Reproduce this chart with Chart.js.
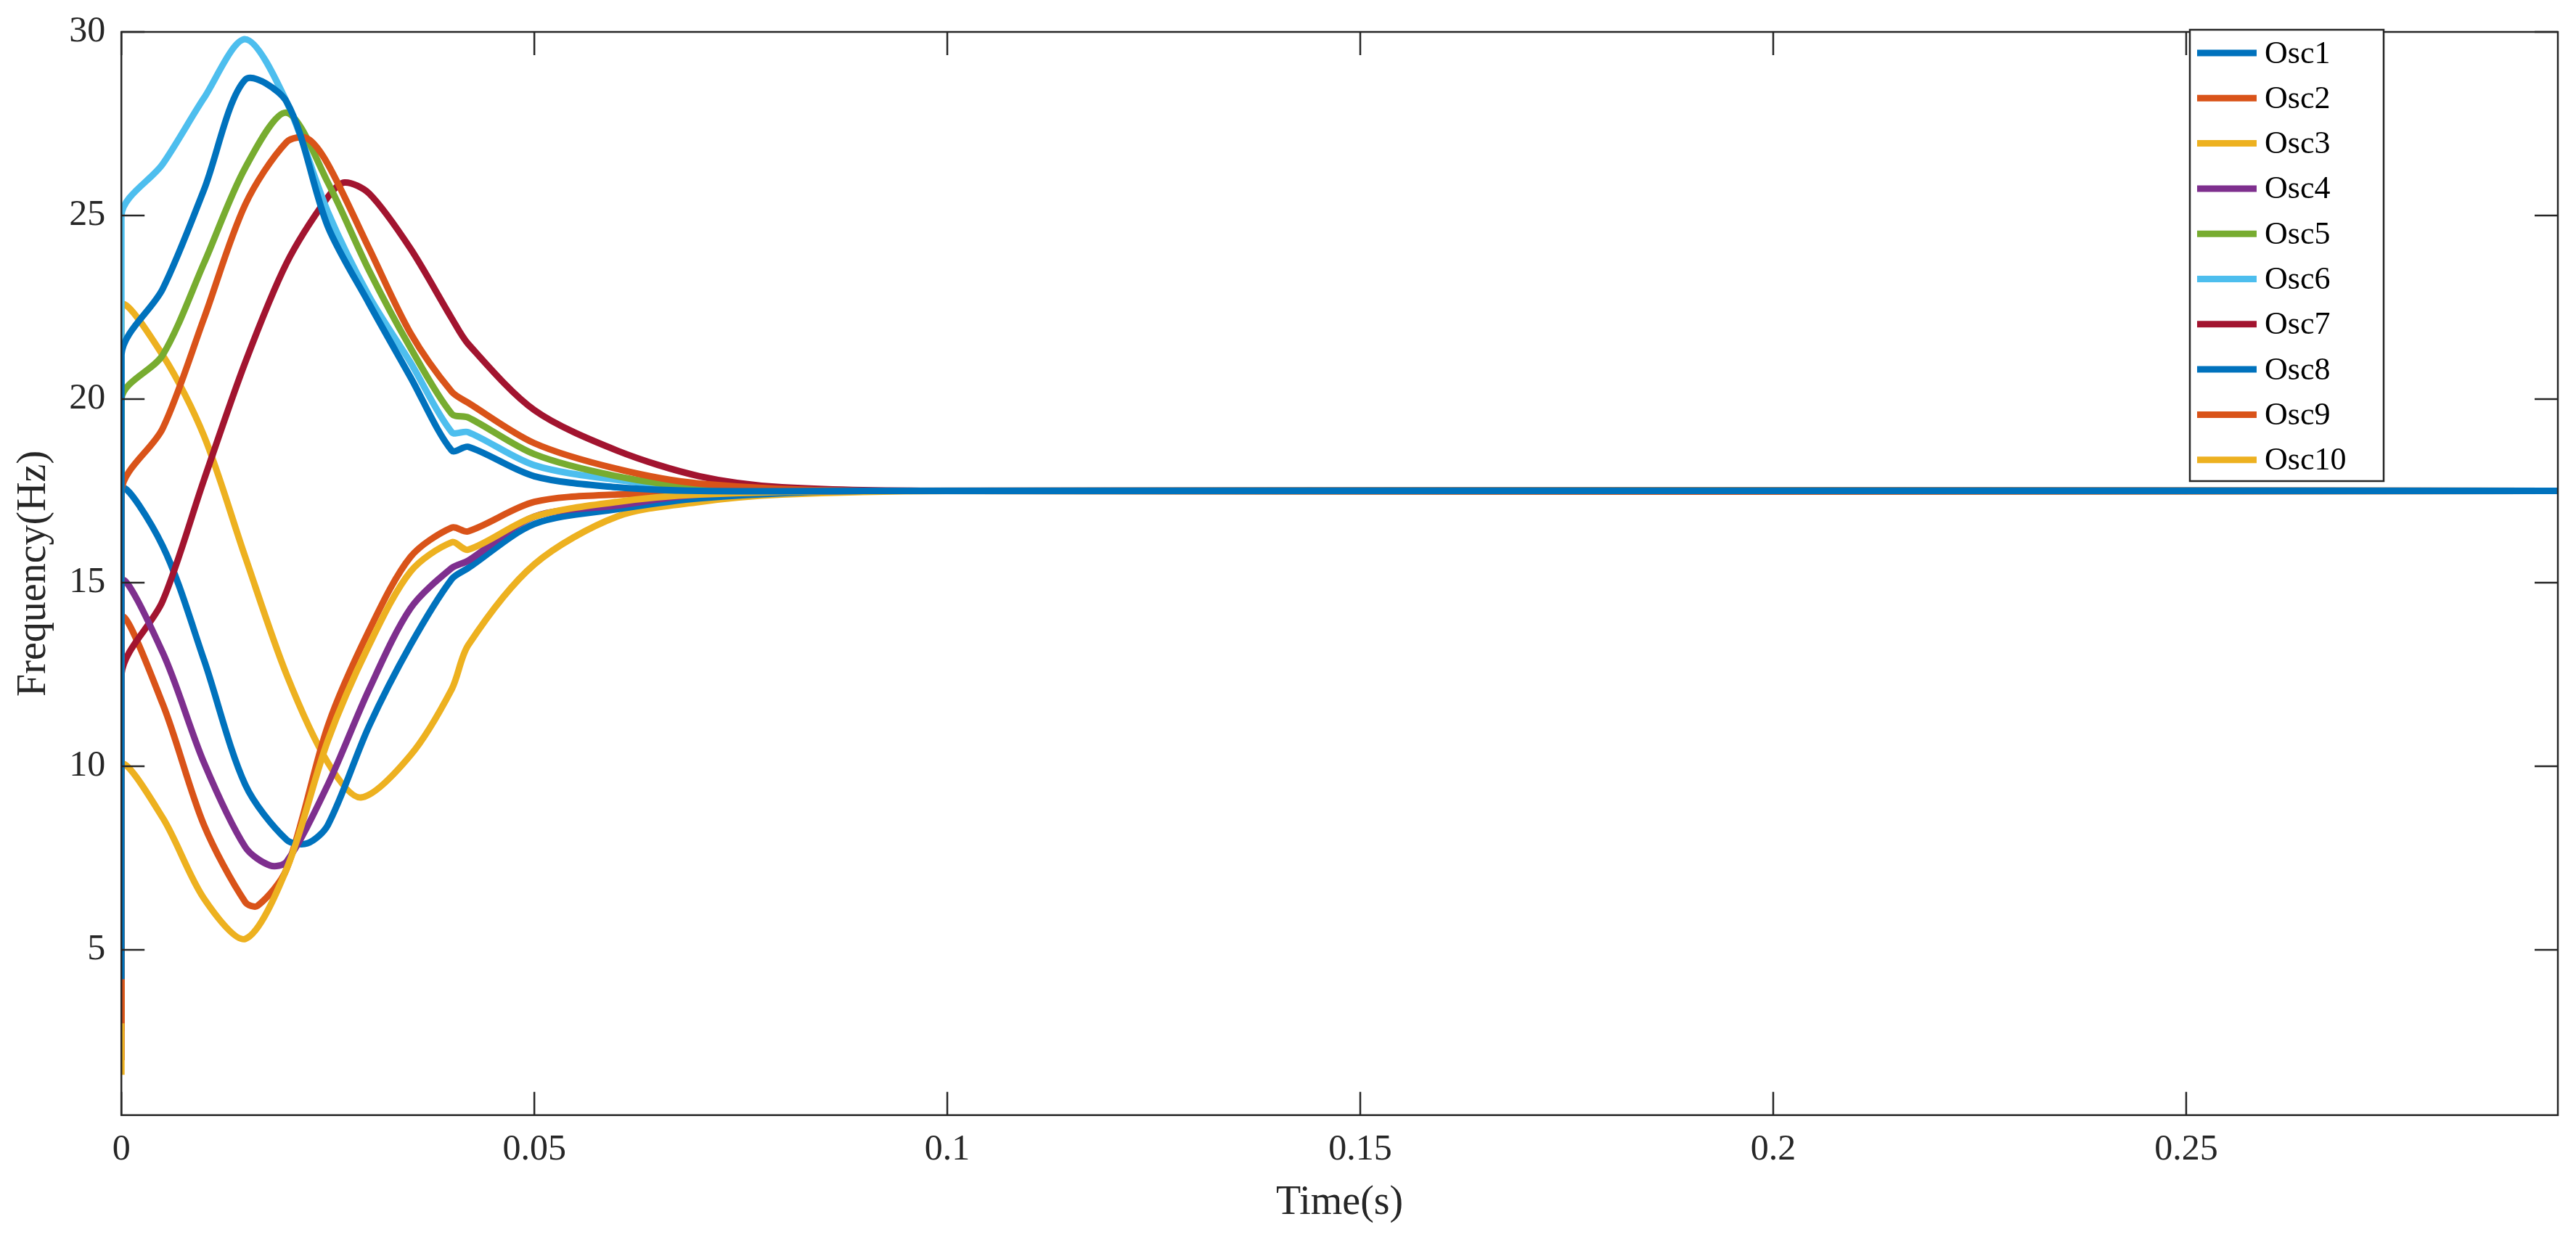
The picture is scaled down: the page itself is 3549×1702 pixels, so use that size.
<!DOCTYPE html>
<html><head><meta charset="utf-8">
<script src="https://cdn.jsdelivr.net/npm/chart.js@4/dist/chart.umd.min.js"></script>
<style>html,body{margin:0;padding:0;background:#fff}#w{width:3549px;height:1702px}</style>
</head><body><div id="w"><canvas id="c"></canvas></div>
<script>
const labels = ['Osc1','Osc2','Osc3','Osc4','Osc5','Osc6','Osc7','Osc8','Osc9','Osc10'];
const colors = ['#0072BD','#D95319','#EDB120','#7E2F8E','#77AC30','#4DBEEE','#A2142F','#0072BD','#D95319','#EDB120'];
const xTicks = [0,0.05,0.1,0.15,0.2,0.25];
const yTicks = [5,10,15,20,25,30];
const startLow = [4.2,3.0,1.6,3.8,4.0,4.5,2.0,3.2,2.8,3.5];
const times = [
 [0,0.005,0.01,0.015,0.02,0.025,0.03,0.035,0.04,0.042,0.05,0.06,0.07,0.09,0.295],
 [0,0.005,0.01,0.015,0.02,0.0225,0.025,0.03,0.035,0.04,0.042,0.05,0.06,0.07,0.09,0.295],
 [0,0.005,0.01,0.015,0.02,0.025,0.03,0.035,0.04,0.042,0.05,0.06,0.07,0.09,0.295],
 [0,0.005,0.01,0.015,0.018,0.02,0.025,0.03,0.035,0.04,0.042,0.05,0.06,0.07,0.09,0.295],
 [0,0.005,0.01,0.015,0.02,0.025,0.03,0.035,0.04,0.042,0.05,0.06,0.07,0.09,0.295],
 [0,0.005,0.01,0.015,0.02,0.025,0.03,0.035,0.04,0.042,0.05,0.06,0.07,0.09,0.295],
 [0,0.005,0.01,0.015,0.02,0.025,0.027,0.03,0.035,0.04,0.042,0.05,0.06,0.07,0.08,0.1,0.295],
 [0,0.005,0.01,0.015,0.02,0.0225,0.025,0.03,0.035,0.04,0.042,0.05,0.06,0.07,0.09,0.295],
 [0,0.005,0.01,0.015,0.0165,0.02,0.025,0.03,0.035,0.04,0.042,0.05,0.06,0.08,0.295],
 [0,0.005,0.01,0.015,0.02,0.025,0.029,0.035,0.04,0.042,0.05,0.06,0.07,0.08,0.1,0.295]
];
const values = [
 [21.2,23.0,25.7,28.7,28.1,24.7,22.6,20.6,18.6,18.7,17.9,17.6,17.5,17.5,17.5],
 [17.5,19.2,22.2,25.3,27.0,27.1,26.4,24.1,21.8,20.2,19.9,18.8,18.1,17.7,17.5,17.5],
 [10.0,8.6,6.4,5.3,7.2,10.7,13.3,15.3,16.1,15.9,16.8,17.2,17.4,17.5,17.5],
 [15.0,13.1,10.1,7.8,7.3,7.4,9.5,12.1,14.3,15.4,15.6,16.8,17.1,17.4,17.5,17.5],
 [20.0,21.2,23.7,26.3,27.8,25.9,23.5,21.4,19.6,19.5,18.5,17.9,17.6,17.5,17.5],
 [25.0,26.4,28.2,29.8,28.1,25.1,22.8,21.0,19.1,19.1,18.2,17.8,17.6,17.5,17.5],
 [12.5,14.5,17.8,21.0,23.7,25.5,25.9,25.6,24.1,22.2,21.5,19.7,18.6,17.9,17.6,17.5,17.5],
 [17.5,16.0,12.9,9.5,8.0,7.9,8.4,11.1,13.3,15.1,15.4,16.6,17.0,17.3,17.5,17.5],
 [14.0,11.7,8.4,6.3,6.2,7.2,11.1,13.7,15.7,16.5,16.4,17.2,17.4,17.5,17.5],
 [22.5,21.2,19.0,15.7,12.5,10.1,9.15,10.3,12.1,13.3,15.5,16.8,17.2,17.4,17.5,17.5]
];
const FONT = '"Liberation Serif", "Times New Roman", serif';
const datasets = labels.map((l,i)=>({
  label:l, borderColor:colors[i], backgroundColor:colors[i], borderWidth:9, pointRadius:0,
  tension:0.3, fill:false,
  data:[{x:0,y:startLow[i]}].concat(times[i].map((t,j)=>({x:t,y:values[i][j]})))
}));
const frame = {
  id:'frame',
  afterDraw(ch){
    const c=ch.ctx, a=ch.chartArea, xs=ch.scales.x, ys=ch.scales.y;
    c.save(); c.strokeStyle='#262626'; c.lineWidth=2.5;
    c.strokeRect(a.left,a.top,a.right-a.left,a.bottom-a.top);
    c.beginPath();
    xTicks.forEach(v=>{const p=xs.getPixelForValue(v); c.moveTo(p,a.bottom); c.lineTo(p,a.bottom-32); c.moveTo(p,a.top); c.lineTo(p,a.top+32);});
    yTicks.forEach(v=>{const p=ys.getPixelForValue(v); c.moveTo(a.left,p); c.lineTo(a.left+32,p); c.moveTo(a.right,p); c.lineTo(a.right-32,p);});
    c.stroke();
    const lx=3017, ly=41, lw=267, lh=622;
    c.fillStyle='#fff'; c.fillRect(lx,ly,lw,lh);
    c.strokeStyle='#262626'; c.lineWidth=2.5; c.strokeRect(lx,ly,lw,lh);
    c.font='44px '+FONT; c.textBaseline='middle'; c.fillStyle='#000';
    ch.data.datasets.forEach((d,i)=>{
      const y=ly+32+i*62.3;
      c.strokeStyle=d.borderColor; c.lineWidth=9;
      c.beginPath(); c.moveTo(lx+10,y); c.lineTo(lx+92,y); c.stroke();
      c.fillText(d.label,lx+103,y+2);
    });
    c.restore();
  }
};
new Chart(document.getElementById('c'),{
  type:'line',
  data:{datasets},
  options:{
    responsive:true, maintainAspectRatio:false, animation:false,
    layout:{padding:{left:10,right:25,top:43,bottom:6}},
    plugins:{legend:{display:false},tooltip:{enabled:false}},
    scales:{
      x:{type:'linear',min:0,max:0.295,
        afterBuildTicks:s=>{s.ticks=xTicks.map(v=>({value:v}));},
        ticks:{color:'#262626',font:{family:FONT,size:50},callback:v=>String(v),maxRotation:0,padding:10},
        grid:{display:false},border:{display:false},
        title:{display:true,text:'Time(s)',color:'#262626',font:{family:FONT,size:56},padding:{top:0}}},
      y:{type:'linear',min:0.5,max:30,
        afterBuildTicks:s=>{s.ticks=yTicks.map(v=>({value:v}));},
        ticks:{color:'#262626',font:{family:FONT,size:50},padding:14},
        grid:{display:false},border:{display:false},
        title:{display:true,text:'Frequency(Hz)',color:'#262626',font:{family:FONT,size:56},padding:{bottom:0}}}
    }
  },
  plugins:[frame]
});
</script></body></html>
